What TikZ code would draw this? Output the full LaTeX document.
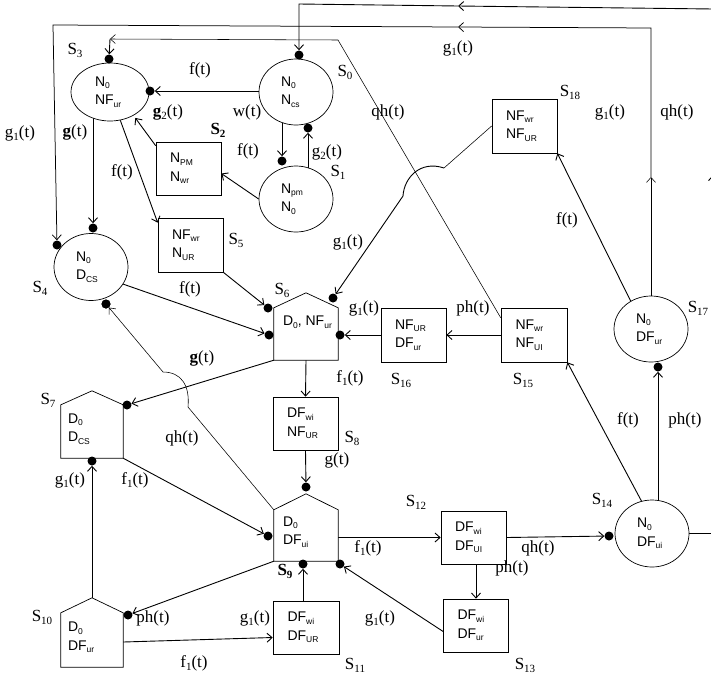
\documentclass[tikz,border=0pt]{standalone}
\usepackage{fontspec}
\setmainfont{Liberation Serif}
\newfontfamily\nodefont{Liberation Sans}
\usetikzlibrary{arrows.meta,shapes.geometric,backgrounds}
\newcommand\nsb[1]{\raisebox{-0.35ex}{\fontsize{8.5}{9}\selectfont #1}}
\newcommand\lsb[1]{\raisebox{-0.4ex}{\fontsize{11}{11}\selectfont #1}}
\begin{document}
\begin{tikzpicture}[x=1pt,y=-1pt,
  nd/.style={draw, line width=0.7pt, fill=white, inner sep=0pt, align=left,
    font=\nodefont\fontsize{14}{18.5}\selectfont},
  ell/.style={nd, ellipse, minimum width=74pt, minimum height=66pt, text width=30pt},
  box/.style={nd, rectangle, minimum width=65pt, minimum height=53pt, text width=37pt, inner xsep=14pt},
  hbody/.style={rectangle, inner sep=0pt, minimum width=64pt, minimum height=52pt},
  hline/.style={draw, line width=0.7pt, fill=white},
  htext/.style={inner sep=0pt, anchor=west, align=left, font=\nodefont\fontsize{14}{18.5}\selectfont},
  dot/.style={circle, fill=black, inner sep=0pt, minimum size=9pt},
  arr/.style={line width=0.9pt, -{Straight Barb[length=5pt,width=9pt]}},
  marr/.style={line width=0.75pt, -{Straight Barb[length=5pt,width=9pt]}},
  tarr/.style={line width=0.55pt, -{Straight Barb[length=5pt,width=9pt]}},
  ln/.style={line width=0.9pt},
  tln/.style={line width=0.55pt},
  lab/.style={inner sep=0pt, font=\fontsize{17}{19}\selectfont},
]
\useasboundingbox (0,0) rectangle (711,675);

% ---------- state nodes ----------
\node[ell] (S0) at (296,92) {N\nsb{0}\\N\nsb{cs}};
\node[ell] (S1) at (296,199) {N\nsb{pm}\\N\nsb{0}};
\node[ell, minimum width=78pt, minimum height=58pt] (S3) at (110,92) {N\nsb{0}\\NF\nsb{ur}};
\node[box] (S2) at (188.5,168.5) {N\nsb{PM}\\N\nsb{wr}};
\node[box, minimum height=54pt] (S5) at (190.5,245) {NF\nsb{wr}\\N\nsb{UR}};
\node[ell, minimum height=67pt] (S4) at (91,267) {N\nsb{0}\\D\nsb{CS}};
\node[box] (S8) at (305.5,423.5) {DF\nsb{wi}\\NF\nsb{UR}};
\node[box, minimum width=66pt] (S11) at (306,627.5) {DF\nsb{wi}\\DF\nsb{UR}};
\node[box] (S12) at (473.5,537.5) {DF\nsb{wi}\\DF\nsb{UI}};
\node[box, minimum width=64pt] (S13) at (476,625.5) {DF\nsb{wi}\\DF\nsb{ur}};
\node[ell, minimum height=67pt] (S14) at (652,533.5) {N\nsb{0}\\DF\nsb{ui}};
\node[box, minimum width=66pt, minimum height=54pt] (S15) at (534,335) {NF\nsb{wr}\\NF\nsb{UI}};
\node[box, minimum height=54pt] (S16) at (413.5,335) {NF\nsb{UR}\\DF\nsb{ur}};
\node[ell] (S17) at (651,329) {N\nsb{0}\\DF\nsb{ur}};
\node[box, minimum height=54pt] (S18) at (524.5,126) {NF\nsb{wr}\\NF\nsb{UR}};

% houses
\node[hbody] (S6) at (306,334) {};
\draw[hline] (S6.north west) -- ([yshift=15pt]S6.north) -- (S6.north east) -- (S6.south east) -- (S6.south west) -- cycle;
\node[htext] (S6t) at ([xshift=9pt,yshift=12pt]S6.west) {D\nsb{0}, NF\nsb{ur}};

\node[hbody, minimum width=62pt, minimum height=53pt] (S7) at (92,431.5) {};
\draw[hline] (S7.north west) -- ([yshift=14pt]S7.north) -- (S7.north east) -- (S7.south east) -- (S7.south west) -- cycle;
\node[htext] (S7t) at ([xshift=7pt,yshift=2.5pt]S7.west) {D\nsb{0}\\D\nsb{CS}};

\node[hbody, minimum height=51pt] (S9) at (306,535.5) {};
\draw[hline] (S9.north west) -- ([yshift=16pt]S9.north) -- (S9.north east) -- (S9.south east) -- (S9.south west) -- cycle;
\node[htext] (S9t) at ([xshift=9pt,yshift=3.5pt]S9.west) {D\nsb{0}\\DF\nsb{ui}};

\node[hbody, minimum width=62pt, minimum height=54pt] (S10) at (92,640) {};
\draw[hline] (S10.north west) -- ([yshift=15pt]S10.north) -- (S10.north east) -- (S10.south east) -- (S10.south west) -- cycle;
\node[htext] (S10t) at ([xshift=7pt,yshift=2.5pt]S10.west) {D\nsb{0}\\DF\nsb{ur}};

% ---------- dots ----------
\node[dot] (d0t) at (299,55) {};
\node[dot] (d0b) at (308,128) {};
\node[dot] (d1t) at (282,161) {};
\node[dot] (d3t) at (109,59) {};
\node[dot] (d3r) at (150,91) {};
\node[dot] (d4tl) at (57,245) {};
\node[dot] (d4t) at (93,228) {};
\node[dot] (d4b) at (106,304) {};
\fill[black] (d4b) circle (4.5pt);
\node[dot] (d6tl) at (268,308) {};
\node[dot] (d6l) at (269,335) {};
\node[dot] (d6tr) at (333,298) {};
\node[dot] (d6r) at (340,335) {};
\node[dot] (d7r) at (127,405) {};
\node[dot] (d7b) at (92,461) {};
\node[dot] (d9t) at (306,487) {};
\node[dot] (d9l) at (268,536) {};
\node[dot] (d9b) at (303,564) {};
\node[dot] (d9br) at (340,564) {};
\node[dot] (d10r) at (128,615) {};
\node[dot] (d14l) at (609,536) {};
\node[dot] (d17b) at (658,367) {};

% ---------- route points ----------
\coordinate (R1) at (713,9);
\coordinate (M1) at (458,6);
\coordinate (C1) at (299,4);
\coordinate (U17) at (651,177);
\coordinate (C2r) at (651,28);
\coordinate (M2) at (458,27);
\coordinate (C2l) at (53,25);
\coordinate (C3r) at (338,40);
\coordinate (C3l) at (110,39);
\coordinate (H1) at (444,168);
\coordinate (H2) at (403,196);
\coordinate (K1) at (188,407);
\coordinate (K2) at (163,372);
\coordinate (Rb) at (713,533.5);
\coordinate (Rm) at (713,175);

% ---------- connectors ----------
\begin{scope}[on background layer]
\fill[white] (0,0) rectangle (711,675);
% top line 1
\draw[arr] (R1) -- (M1);
\draw[arr] (M1) -- (C1) -- (d0t);
\draw[ln] (S14.east) -- (Rb);
\draw[arr] (Rb) -- (Rm);
\draw[ln] (Rm) -- (R1);
% line 2 from S17 to S4
\draw[tarr] (S17.north) -- (U17);
\draw[marr] (U17) -- (C2r) -- (M2);
\draw[marr] (M2) -- (C2l) -- (d4tl);
% line 3 from S15 to S3
\draw[tarr] ([yshift=-10pt]S15.north west) -- (C3r) -- (C3l);
\draw[arr] (C3l) -- (d3t);
% upper part
\draw[arr] (S0.center |- d3r) -- (d3r);
\draw[arr] (S0.center -| d1t) -- (d1t);
\draw[arr] (S1.center -| d0b) -- (d0b);
\draw[arr] (S1.west) -- ([yshift=-5pt]S2.east);
\draw[arr, shorten >=3pt] ([yshift=-4pt]S2.north west) -- (S3.-45);
\draw[arr] (S3.center -| d4t) -- (d4t);
\draw[arr] (S3.-70) -- ([yshift=-5pt]S5.north west);
\draw[arr] (S4.-28) -- (d6l);
\draw[arr] (S5.south east) -- (d6tl);
\draw[tln] (S18.west) -- (H1);
\draw[arr] (H1) .. controls (420,160) and (404,178) .. (H2) -- (d6tr);
\draw[arr] (S16.center) -- (d6r);
\draw[arr] (S15.center) -- (S16.east);
% middle
\draw[arr] (S6.south west) -- (d7r);
\draw[arr] (S6.south) -- (S8.north);
\draw[arr] (S8.south) -- (d9t);
\draw[tarr] (S9.north west) -- (K1) .. controls (190,385) and (181,372) .. (K2) -- (d4b);
\draw[arr] (S7.south east) -- (d9l);
\draw[arr] ([yshift=15pt]S10.north) -- (d7b);
\draw[arr] (S9.south west) -- (d10r);
\draw[arr] ([yshift=-2pt]S10.east) -- ([yshift=-10pt]S11.west);
\draw[arr] (S11.north -| d9b) -- (d9b);
\draw[arr] ([yshift=-6pt]S13.west) -- (d9br);
\draw[arr] (S9.center |- S12.west) -- (S12.west);
\draw[arr] (S12.east) -- (d14l);
\draw[arr] (S12.south -| S13.north) -- (S13.north);
\draw[arr] (S14.108) -- (S15.south east);
\draw[arr] (S14.center -| d17b) -- (d17b);
\draw[arr] (S17.126) -- (S18.south east);
\end{scope}

% ---------- state labels ----------
\node[lab] (n0) at (345,72) {S\lsb{0}};
\node[lab] (n1) at (338,172) {S\lsb{1}};
\node[lab] (n2) at (218,130) {\bfseries S\lsb{2}};
\node[lab] (n3) at (75,50) {S\lsb{3}};
\node[lab] (n4) at (40,288) {S\lsb{4}};
\node[lab] (n5) at (236,240) {S\lsb{5}};
\node[lab] (n6) at (282,290) {S\lsb{6}};
\node[lab] (n7) at (48,400) {S\lsb{7}};
\node[lab] (n8) at (352,438) {S\lsb{8}};
\node[lab] (n9) at (285,571) {\bfseries S\lsb{9}};
\node[lab] (n10) at (42,617) {S\lsb{10}};
\node[lab] (n11) at (355,665) {S\lsb{11}};
\node[lab] (n12) at (416,502) {S\lsb{12}};
\node[lab] (n13) at (525,665) {S\lsb{13}};
\node[lab] (n14) at (602,500) {S\lsb{14}};
\node[lab] (n15) at (523,380) {S\lsb{15}};
\node[lab] (n16) at (401,380) {S\lsb{16}};
\node[lab] (n17) at (698,308) {S\lsb{17}};
\node[lab] (n18) at (570,92) {S\lsb{18}};

% ---------- connector labels ----------
\node[lab] (e1) at (200,70) {f(t)};
\node[lab] (e2) at (247,112) {w(t)};
\node[lab] (e3) at (168,112) {\textbf{g}\lsb{2}(t)};
\node[lab] (e4) at (248,151) {f(t)};
\node[lab] (e5) at (327,152) {g\lsb{2}(t)};
\node[lab] (e6) at (20,133) {g\lsb{1}(t)};
\node[lab] (e7) at (75,132) {\textbf{g}(t)};
\node[lab] (e8) at (122,172) {f(t)};
\node[lab] (e9) at (458,48) {g\lsb{1}(t)};
\node[lab] (e10) at (388,112) {qh(t)};
\node[lab] (e11) at (610,112) {g\lsb{1}(t)};
\node[lab] (e12) at (677,112) {qh(t)};
\node[lab] (e13) at (567,220) {f(t)};
\node[lab] (e14) at (348,242) {g\lsb{1}(t)};
\node[lab] (e15) at (190,289) {f(t)};
\node[lab] (e16) at (364,308) {g\lsb{1}(t)};
\node[lab] (e17) at (473,308) {ph(t)};
\node[lab] (e18) at (202,358) {\textbf{g}(t)};
\node[lab] (e19) at (350,378) {f\lsb{1}(t)};
\node[lab] (e20) at (182,438) {qh(t)};
\node[lab] (e21) at (337,460) {g(t)};
\node[lab] (e22) at (70,480) {g\lsb{1}(t)};
\node[lab] (e23) at (135,480) {f\lsb{1}(t)};
\node[lab] (e24) at (628,420) {f(t)};
\node[lab] (e25) at (685,420) {ph(t)};
\node[lab] (e26) at (368,548) {f\lsb{1}(t)};
\node[lab] (e27) at (538,548) {qh(t)};
\node[lab] (e28) at (512,568) {ph(t)};
\node[lab] (e29) at (153,618) {ph(t)};
\node[lab] (e30) at (255,618) {g\lsb{1}(t)};
\node[lab] (e31) at (380,618) {g\lsb{1}(t)};
\node[lab] (e32) at (194,663) {f\lsb{1}(t)};
\end{tikzpicture}
\end{document}
